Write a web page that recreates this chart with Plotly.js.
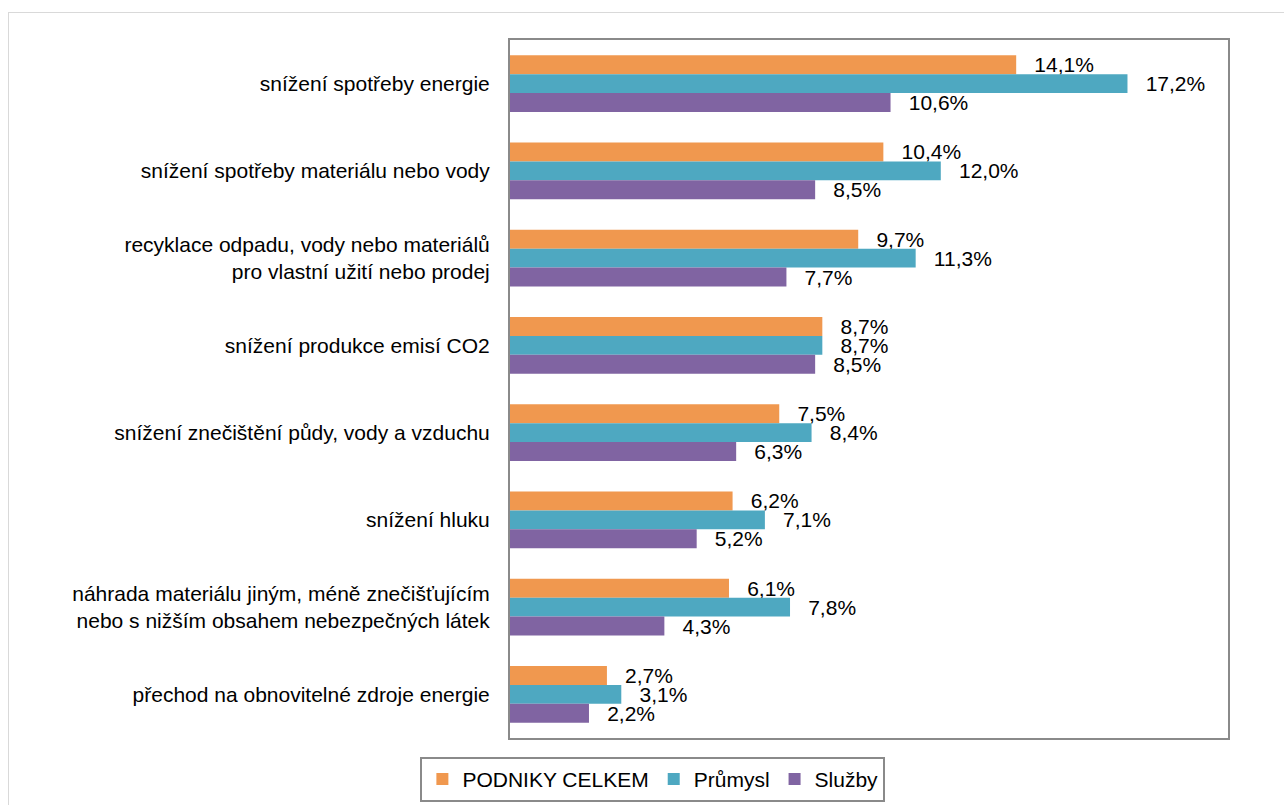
<!DOCTYPE html>
<html>
<head>
<meta charset="utf-8">
<script src="https://cdn.plot.ly/plotly-3.0.1.min.js"></script>
<style>
  html, body { margin:0; padding:0; background:#fff; overflow:hidden; }
  #frame { position:absolute; left:8px; top:12px; width:1300px; height:820px; border:1px solid #d9d9d9; box-sizing:border-box; }
  #chart { position:absolute; left:0; top:0; width:1284px; height:805px; }
</style>
</head>
<body>
<div id="frame"></div>
<div id="chart"></div>
<script>
const categories = [
  "snížení spotřeby energie",
  "snížení spotřeby materiálu nebo vody",
  "recyklace odpadu, vody nebo materiálů<br>pro vlastní užití nebo prodej",
  "snížení produkce emisí CO2",
  "snížení znečištění půdy, vody a vzduchu",
  "snížení hluku",
  "náhrada materiálu jiným, méně znečišťujícím<br>nebo s nižším obsahem nebezpečných látek",
  "přechod na obnovitelné zdroje energie"
];
const seriesNames = ["PODNIKY CELKEM", "Průmysl", "Služby"];
const podnikyCelkem = [14.1, 10.4, 9.7, 8.7, 7.5, 6.2, 6.1, 2.7];
const prumysl = [17.2, 12.0, 11.3, 8.7, 8.4, 7.1, 7.8, 3.1];
const sluzby = [10.6, 8.5, 7.7, 8.5, 6.3, 5.2, 4.3, 2.2];
const colors = ["#F0984F", "#4EA8C1", "#8064A2"];

const FONT = "Liberation Sans, Arial, sans-serif";
const fmt = v => "\u00A0\u00A0\u2006" + v.toFixed(1).replace(".", ",") + "%";
const allSeries = [podnikyCelkem, prumysl, sluzby];

const traces = allSeries.map((vals, i) => ({
  type: "bar",
  orientation: "h",
  name: seriesNames[i],
  y: categories,
  x: vals,
  marker: { color: colors[i] },
  text: vals.map(fmt),
  textposition: "outside",
  cliponaxis: false,
  constraintext: "none",
  textfont: { family: FONT, size: 21, color: "#000" },
  hoverinfo: "x+name"
}));

const layout = {
  width: 1284,
  height: 805,
  paper_bgcolor: "rgba(0,0,0,0)",
  plot_bgcolor: "#fff",
  margin: { l: 510, r: 56, t: 40, b: 67, autoexpand: false },
  barmode: "group",
  bargap: 0.35,
  bargroupgap: 0,
  font: { family: FONT, size: 21, color: "#000" },
  xaxis: {
    range: [0, 20],
    showticklabels: false,
    ticks: "",
    showgrid: false,
    zeroline: false,
    showline: true,
    mirror: true,
    linecolor: "#8a8a8a",
    linewidth: 2,
    fixedrange: true
  },
  yaxis: {
    autorange: "reversed",
    showgrid: false,
    zeroline: false,
    showline: true,
    mirror: true,
    linecolor: "#8a8a8a",
    linewidth: 2,
    ticks: "",
    ticklabelstandoff: 14,
    tickfont: { family: FONT, size: 21, color: "#000" },
    fixedrange: true
  },
  showlegend: true,
  legend: {
    orientation: "h",
    x: 0.199,
    xanchor: "center",
    y: -0.027,
    yanchor: "top",
    bordercolor: "#8a8a8a",
    borderwidth: 2,
    font: { family: FONT, size: 21, color: "#000" },
    traceorder: "normal"
  }
};

Plotly.newPlot("chart", traces, layout, { displayModeBar: false, staticPlot: true });
</script>
</body>
</html>
